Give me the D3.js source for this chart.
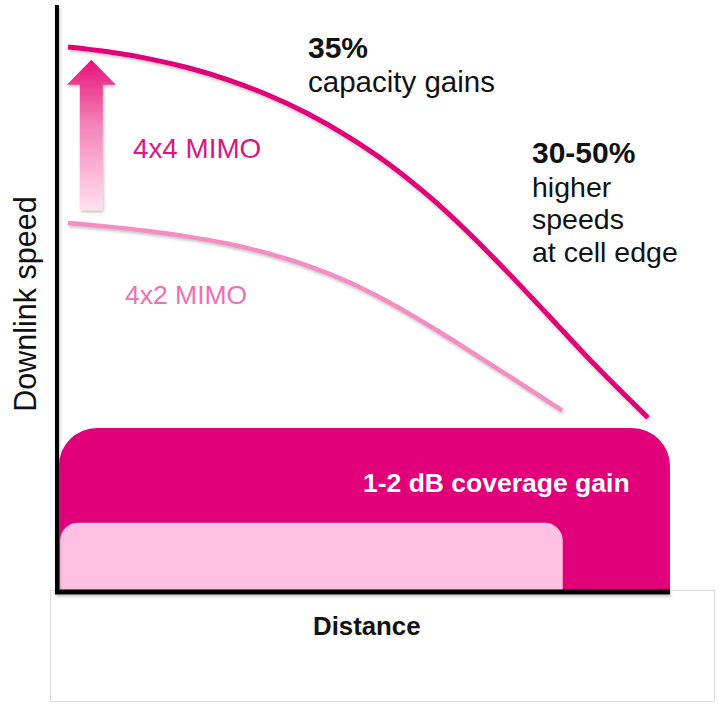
<!DOCTYPE html>
<html>
<head>
<meta charset="utf-8">
<script src="https://cdn.jsdelivr.net/npm/d3@7"></script>
<style>
  html, body { margin: 0; padding: 0; background: #fff; }
  svg { display: block; }
  text { font-family: "Liberation Sans", Arial, sans-serif; }
</style>
</head>
<body>
<script>
// ---- data (distance 0..100, downlink speed 0..100) ----
const mimo4x4Distance = [1.79, 8.32, 14.85, 21.37, 27.90, 34.42, 40.95, 47.47, 54.00, 60.52, 67.05, 73.57, 80.10, 86.62, 96.41];
const mimo4x4Speed    = [92.06, 91.25, 90.10, 88.55, 86.52, 83.95, 80.78, 76.93, 72.40, 66.99, 60.78, 53.95, 46.79, 39.56, 29.43];
const mimo4x2Distance = [1.79, 8.32, 14.85, 21.37, 27.90, 34.42, 40.95, 47.47, 54.00, 60.52, 67.05, 73.57, 82.38];
const mimo4x2Speed    = [62.33, 61.72, 60.98, 60.03, 58.82, 57.20, 55.10, 52.40, 49.02, 45.10, 40.91, 36.59, 30.66];
const coverageBands = [
  { name: "4x4 MIMO coverage", from: 0.3, to: 100, level: 27.7 },
  { name: "4x2 MIMO coverage", from: 0.5, to: 82.5, level: 11.7 }
];
const seriesLabels = ["4x4 MIMO", "4x2 MIMO"];
const axisLabels = { x: "Distance", y: "Downlink speed" };
const gainNotes = {
  capacity: ["35%", "capacity gains"],
  edge: ["30-50%", "higher", "speeds", "at cell edge"],
  coverage: "1-2 dB coverage gain"
};
const arrowSpan = { distance: 5.6, from: 64.5, to: 89.9 };

// ---- layout ----
const W = 719, H = 705;
const svg = d3.select("body").append("svg").attr("width", W).attr("height", H);

const x = d3.scaleLinear().domain([0, 100]).range([57, 670]);
const y = d3.scaleLinear().domain([0, 100]).range([592, 0]);

const MAG = "#e2007a", LIGHT_LINE = "#f58dc4", LIGHT_FILL = "#fec1e1";

const defs = svg.append("defs");
const sh = defs.append("filter").attr("id", "shadow")
  .attr("x", "-20%").attr("y", "-20%").attr("width", "140%").attr("height", "140%");
sh.append("feDropShadow").attr("dx", 1).attr("dy", 2).attr("stdDeviation", 1.4)
  .attr("flood-color", "#4a5a55").attr("flood-opacity", 0.35);
const grad = defs.append("linearGradient").attr("id", "arrowGrad")
  .attr("x1", 0).attr("y1", 0).attr("x2", 0).attr("y2", 1);
grad.append("stop").attr("offset", "0%").attr("stop-color", "#e6137d");
grad.append("stop").attr("offset", "45%").attr("stop-color", "#f487bb");
grad.append("stop").attr("offset", "100%").attr("stop-color", "#ffe1ee");

// bottom frame box
svg.append("rect").attr("x", 50.5).attr("y", 590.5).attr("width", 664).attr("height", 111)
  .attr("fill", "#fff").attr("stroke", "#dcdcdc").attr("stroke-width", 1);

// coverage bands (top corners rounded)
function topRounded(x0, x1, yTop, yBot, r) {
  return `M${x0},${yBot} L${x0},${yTop + r} A${r},${r} 0 0 1 ${x0 + r},${yTop} ` +
         `L${x1 - r},${yTop} A${r},${r} 0 0 1 ${x1},${yTop + r} L${x1},${yBot} Z`;
}
const bandColors = [MAG, LIGHT_FILL];
const bandRadius = [38, 18];
svg.selectAll("path.band").data(coverageBands).join("path")
  .attr("class", "band")
  .attr("d", (d, i) => topRounded(x(d.from), x(d.to), y(d.level), y(0), bandRadius[i]))
  .attr("fill", (d, i) => bandColors[i]);

svg.append("text").attr("x", 363).attr("y", 492)
  .attr("font-size", 26.5).attr("font-weight", "bold").attr("fill", "#fff")
  .text(gainNotes.coverage);

// axes (plain lines, no ticks)
const axesG = svg.append("g").attr("filter", "url(#shadow)");
axesG.append("line").attr("x1", x(0)).attr("x2", x(0)).attr("y1", 5).attr("y2", y(0) + 2)
  .attr("stroke", "#000").attr("stroke-width", 4);
axesG.append("line").attr("x1", x(0) - 2).attr("x2", x(100)).attr("y1", y(0)).attr("y2", y(0))
  .attr("stroke", "#000").attr("stroke-width", 5);

// curves
const line = d3.line().x(d => x(d[0])).y(d => y(d[1])).curve(d3.curveMonotoneX);
const s44 = mimo4x4Distance.map((d, i) => [d, mimo4x4Speed[i]]);
const s42 = mimo4x2Distance.map((d, i) => [d, mimo4x2Speed[i]]);
svg.append("path").attr("d", line(s42)).attr("fill", "none")
  .attr("stroke", LIGHT_LINE).attr("stroke-width", 4.5).attr("filter", "url(#shadow)");
svg.append("path").attr("d", line(s44)).attr("fill", "none")
  .attr("stroke", MAG).attr("stroke-width", 5).attr("filter", "url(#shadow)");

// arrow
const ax = x(arrowSpan.distance), ayTop = y(arrowSpan.to), ayBot = y(arrowSpan.from);
const headW = 24.5, shaftW = 11.5, headH = 25;
svg.append("path")
  .attr("d", `M${ax},${ayTop} L${ax + headW},${ayTop + headH} L${ax + shaftW},${ayTop + headH} ` +
             `L${ax + shaftW},${ayBot} L${ax - shaftW},${ayBot} L${ax - shaftW},${ayTop + headH} ` +
             `L${ax - headW},${ayTop + headH} Z`)
  .attr("fill", "url(#arrowGrad)").attr("filter", "url(#shadow)");

// series labels
svg.append("text").attr("x", 133).attr("y", 158).attr("font-size", 27.8).attr("fill", "#e0147f")
  .text(seriesLabels[0]);
svg.append("text").attr("x", 125).attr("y", 304).attr("font-size", 26.5).attr("fill", "#ef6fb4")
  .text(seriesLabels[1]);

// notes
svg.append("text").attr("x", 308).attr("y", 58).attr("font-size", 30).attr("font-weight", "bold")
  .attr("fill", "#111").text(gainNotes.capacity[0]);
svg.append("text").attr("x", 308).attr("y", 92).attr("font-size", 29.5).attr("fill", "#111")
  .text(gainNotes.capacity[1]);
const edgeY = [163, 197, 229, 262];
gainNotes.edge.forEach((t, i) => {
  svg.append("text").attr("x", 532).attr("y", edgeY[i])
    .attr("font-size", i === 0 ? 30 : 28.5).attr("font-weight", i === 0 ? "bold" : "normal")
    .attr("fill", "#111").text(t);
});

// axis titles
svg.append("text").attr("x", 313).attr("y", 635).attr("font-size", 25.8).attr("font-weight", "bold")
  .attr("fill", "#111").text(axisLabels.x);
svg.append("text").attr("transform", "translate(36,304) rotate(-90)").attr("text-anchor", "middle")
  .attr("font-size", 30.5).attr("fill", "#111").text(axisLabels.y);
</script>
</body>
</html>
